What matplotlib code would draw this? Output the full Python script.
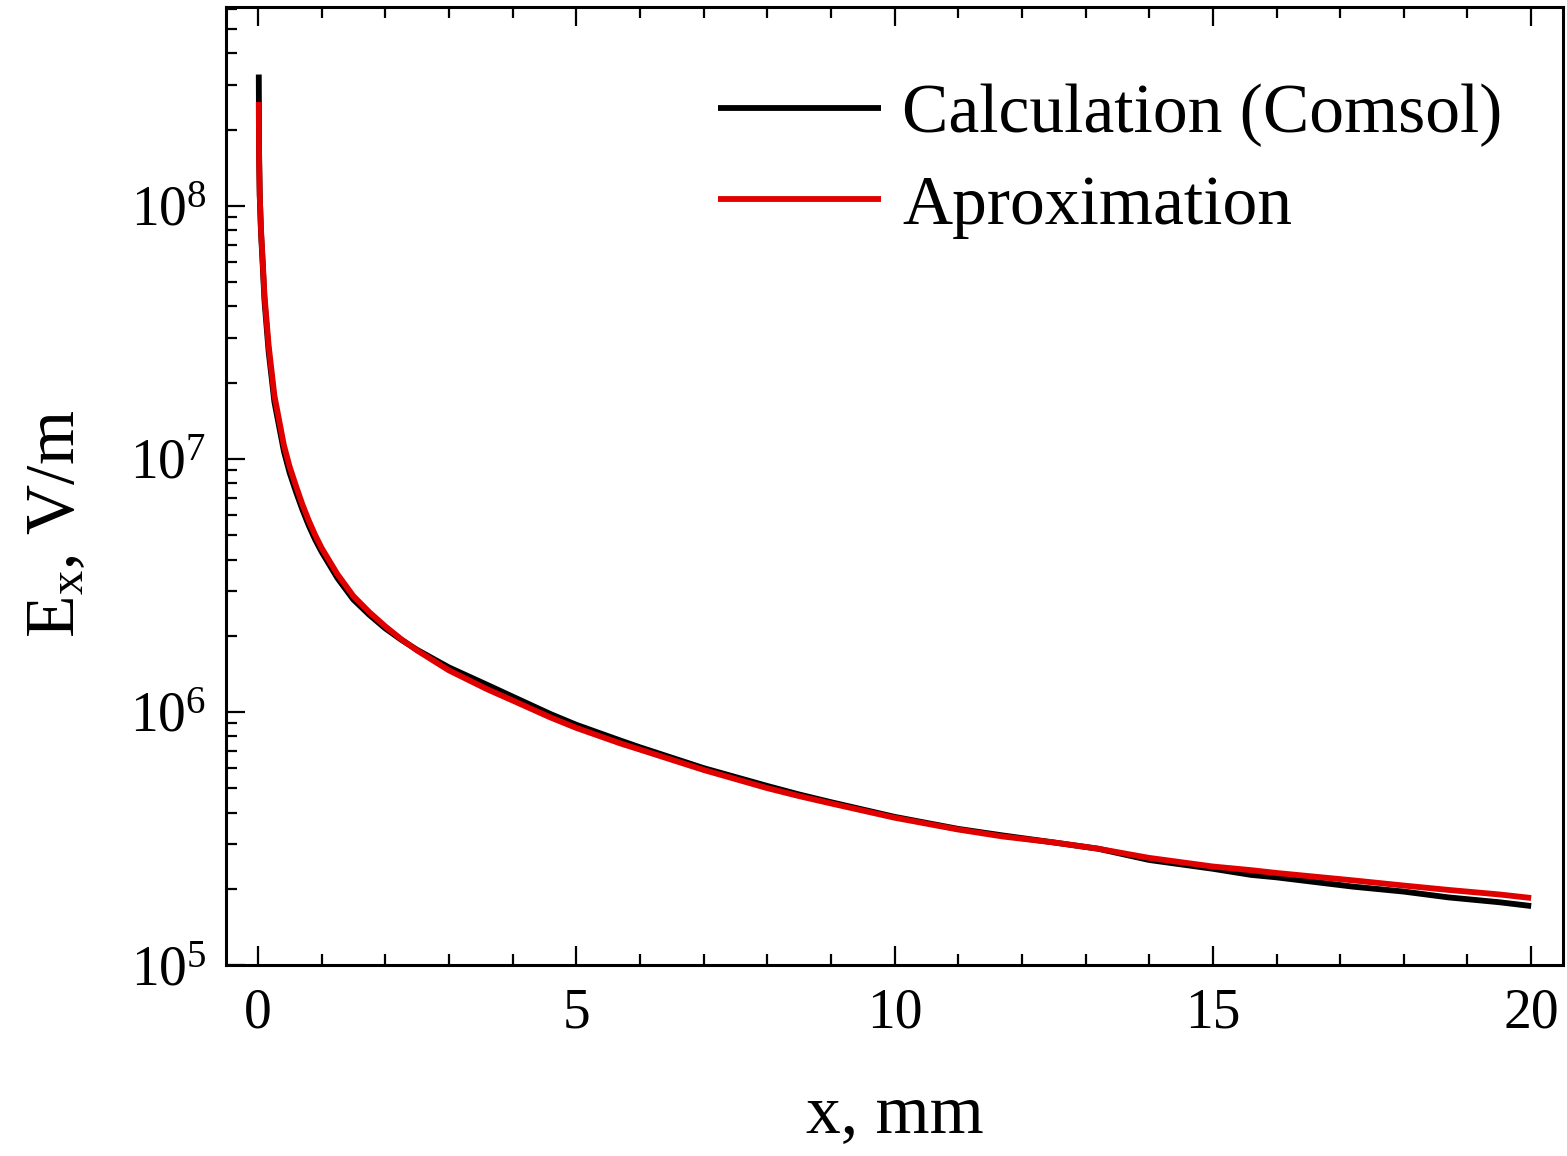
import numpy as np
import matplotlib
matplotlib.use("Agg")
import matplotlib.pyplot as plt
from matplotlib.ticker import MultipleLocator, LogLocator, NullFormatter

# ----------------------------- Data -----------------------------
x_calc = [0.015, 0.02, 0.03, 0.05, 0.07, 0.105, 0.17, 0.26, 0.41, 0.50, 0.60, 0.70, 0.80, 0.90,
          1.00, 1.25, 1.50, 1.75, 2.00, 2.25, 2.50, 3.00, 3.60, 4.00, 4.60, 5.00, 5.70, 6.00,
          7.00, 8.00, 8.50, 9.00, 10.0, 11.0, 11.7, 12.5, 13.2, 14.0, 15.0, 15.6, 16.0, 17.2,
          18.0, 18.7, 19.5, 20.0]
E_calc = [3.3e8, 1.6e8, 1.1e8, 7.8e7, 6.3e7, 4.2e7, 2.65e7, 1.68e7, 1.07e7, 8.8e6, 7.4e6, 6.3e6,
          5.45e6, 4.8e6, 4.3e6, 3.38e6, 2.78e6, 2.42e6, 2.14e6, 1.93e6, 1.76e6, 1.5e6, 1.28e6,
          1.15e6, 9.8e5, 8.9e5, 7.7e5, 7.25e5, 6.0e5, 5.1e5, 4.72e5, 4.4e5, 3.85e5, 3.45e5,
          3.25e5, 3.05e5, 2.88e5, 2.6e5, 2.4e5, 2.27e5, 2.22e5, 2.04e5, 1.95e5, 1.85e5, 1.77e5,
          1.71e5]

x_appr = [0.015, 0.02, 0.03, 0.05, 0.07, 0.105, 0.17, 0.26, 0.41, 0.50, 0.60, 0.70, 0.80, 0.90,
          1.00, 1.25, 1.50, 1.75, 2.00, 2.25, 2.50, 3.00, 3.60, 4.00, 4.60, 5.00, 5.70, 6.00,
          7.00, 8.00, 8.50, 9.00, 10.0, 11.0, 11.7, 12.5, 13.2, 14.0, 15.0, 15.6, 16.0, 17.2,
          18.0, 18.7, 19.5, 20.0]
E_appr = [2.57e8, 1.5e8, 1.1e8, 8.0e7, 6.5e7, 4.4e7, 2.8e7, 1.78e7, 1.13e7, 9.3e6, 7.8e6, 6.6e6,
          5.7e6, 5.0e6, 4.45e6, 3.5e6, 2.87e6, 2.48e6, 2.18e6, 1.94e6, 1.75e6, 1.46e6, 1.23e6,
          1.11e6, 9.5e5, 8.65e5, 7.5e5, 7.1e5, 5.9e5, 5.0e5, 4.65e5, 4.35e5, 3.82e5, 3.43e5,
          3.22e5, 3.05e5, 2.88e5, 2.65e5, 2.45e5, 2.37e5, 2.31e5, 2.16e5, 2.06e5, 1.98e5, 1.9e5,
          1.84e5]

labels = ["Calculation (Comsol)", "Aproximation"]

# --------------------------- Plot style --------------------------
plt.rcParams.update({
    "font.family": "serif",
    "font.serif": ["Liberation Serif", "DejaVu Serif"],
    "mathtext.fontset": "custom",
    "mathtext.rm": "Liberation Serif",
    "mathtext.it": "Liberation Serif:italic",
})

fig = plt.figure(figsize=(15.67, 11.56), dpi=100)
ax = fig.add_axes([226/1567, 1-965/1156, (1563-226)/1567, (965-7)/1156])

ax.plot(x_calc, E_calc, color="black", lw=4.2, label=labels[0], solid_capstyle="butt")
ax.plot(x_appr, E_appr, color="#e00000", lw=4.2, label=labels[1], solid_capstyle="butt")

ax.set_yscale("log")
ax.set_xlim(-0.5, 20.5)
ax.set_ylim(1e5, 6.1e8)

ax.xaxis.set_major_locator(MultipleLocator(5))
ax.xaxis.set_minor_locator(MultipleLocator(1))
ax.yaxis.set_major_locator(LogLocator(base=10, numticks=10))
ax.yaxis.set_minor_locator(LogLocator(base=10, subs=np.arange(2, 10), numticks=20))
ax.yaxis.set_minor_formatter(NullFormatter())

ax.tick_params(which="both", direction="in", top=True, right=False, width=1.6)
ax.tick_params(which="major", length=14)
ax.tick_params(which="minor", length=8)
ax.tick_params(axis="x", which="major", labelsize=40, pad=16)
ax.tick_params(axis="y", which="major", labelsize=40, pad=14)
for s in ax.spines.values():
    s.set_linewidth(2.2)

ax.set_xlabel("x, mm", fontsize=50, va="center")
ax.xaxis.set_label_coords(0.5, -0.157)
ax.set_ylabel(r"E$_\mathrm{x}$, V/m", fontsize=50, va="center")
ax.yaxis.set_label_coords(-0.126, 0.46)

leg = ax.legend(loc="upper left", bbox_to_anchor=(0.368, 0.92), frameon=False,
                fontsize=50, handlelength=2.35, handletextpad=0.3, labelspacing=0.4,
                borderpad=0, borderaxespad=0)
for h in leg.get_lines():
    h.set_linewidth(4.2)

fig.savefig("out.png", dpi=100)
